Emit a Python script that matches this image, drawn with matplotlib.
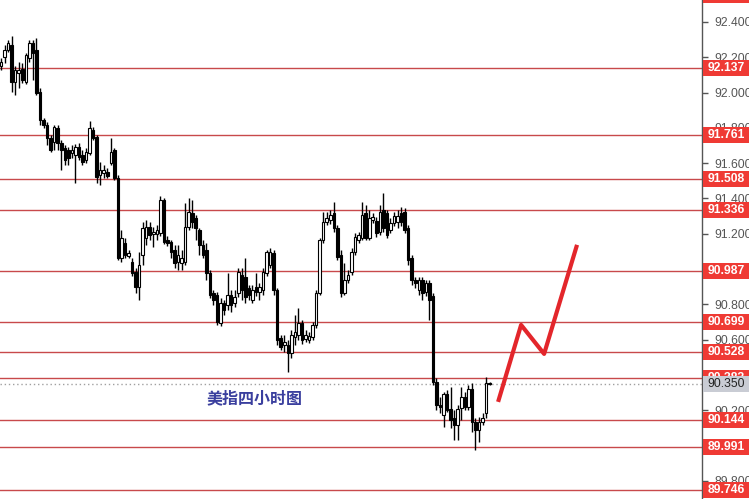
import numpy as np
import matplotlib.pyplot as plt
from matplotlib.patches import Rectangle
import matplotlib.transforms as mtransforms

plt.rcParams['font.family'] = ['Liberation Sans', 'DejaVu Sans']

# 4-hour candles
opens = [92.151, 92.202, 92.241, 92.270, 92.060, 92.111, 92.134, 92.060, 92.196, 92.281,
         92.241, 92.003, 91.845, 91.816, 91.743, 91.720, 91.799, 91.714, 91.686, 91.675,
         91.658, 91.646, 91.692, 91.646, 91.618, 91.658, 91.788, 91.748, 91.533, 91.544,
         91.550, 91.601, 91.675, 91.516, 91.063, 91.148, 91.074, 91.040, 90.983, 90.898,
         91.080, 91.176, 91.238, 91.199, 91.199, 91.204, 91.392, 91.165, 91.153, 91.108,
         91.040, 91.034, 91.040, 91.238, 91.318, 91.289, 91.222, 91.136, 91.108, 90.978,
         90.864, 90.853, 90.694, 90.808, 90.797, 90.853, 90.808, 90.864, 90.966, 90.955,
         90.893, 90.825, 90.898, 90.870, 90.882, 90.978, 91.023, 91.091, 90.882, 90.610,
         90.570, 90.570, 90.524, 90.615, 90.626, 90.694, 90.604, 90.598, 90.615, 90.683,
         90.864, 91.165, 91.267, 91.278, 91.318, 91.233, 91.080, 90.864, 90.938, 90.983,
         91.097, 91.165, 91.176, 91.318, 91.176, 91.278, 91.272, 91.210, 91.335, 91.318,
         91.222, 91.261, 91.267, 91.318, 91.323, 91.233, 91.063, 90.938, 90.882, 90.938,
         90.870, 90.921, 90.847, 90.360, 90.230, 90.173, 90.292, 90.207, 90.156, 90.117,
         90.213, 90.275, 90.219, 90.320, 90.134, 90.088, 90.134, 90.185, 90.352]
highs = [92.196, 92.270, 92.298, 92.321, 92.151, 92.173, 92.168, 92.224, 92.298, 92.298,
         92.309, 92.026, 91.856, 91.833, 91.760, 91.816, 91.816, 91.731, 91.703, 91.692,
         91.703, 91.709, 91.714, 91.675, 91.686, 91.839, 91.805, 91.760, 91.607, 91.590,
         91.573, 91.743, 91.686, 91.533, 91.222, 91.176, 91.108, 91.063, 91.006, 91.097,
         91.267, 91.278, 91.267, 91.238, 91.250, 91.414, 91.403, 91.187, 91.165, 91.136,
         91.136, 91.108, 91.374, 91.403, 91.392, 91.306, 91.233, 91.165, 91.148, 90.995,
         90.882, 90.870, 90.836, 90.825, 90.978, 90.882, 90.882, 91.006, 91.006, 91.063,
         90.910, 90.910, 90.978, 90.921, 91.006, 91.108, 91.119, 91.108, 90.893, 90.626,
         90.626, 90.598, 90.655, 90.740, 90.779, 90.712, 90.655, 90.643, 90.700, 90.882,
         91.176, 91.323, 91.323, 91.335, 91.380, 91.250, 91.108, 91.034, 90.995, 91.119,
         91.204, 91.210, 91.380, 91.363, 91.335, 91.318, 91.295, 91.363, 91.431, 91.335,
         91.289, 91.323, 91.335, 91.352, 91.346, 91.250, 91.080, 90.955, 90.955, 90.955,
         90.938, 90.938, 90.864, 90.383, 90.275, 90.304, 90.315, 90.332, 90.202, 90.230,
         90.332, 90.304, 90.344, 90.355, 90.156, 90.162, 90.185, 90.389, 90.358]
lows = [92.128, 92.168, 92.230, 92.003, 91.986, 92.026, 92.054, 92.049, 92.173, 92.071,
        91.986, 91.816, 91.799, 91.703, 91.663, 91.675, 91.675, 91.561, 91.590, 91.590,
        91.629, 91.488, 91.618, 91.590, 91.601, 91.646, 91.731, 91.488, 91.476, 91.516,
        91.516, 91.590, 91.505, 91.052, 91.040, 91.063, 91.063, 90.961, 90.864, 90.825,
        91.023, 91.136, 91.165, 91.125, 91.165, 91.187, 91.142, 91.131, 91.063, 91.006,
        90.995, 90.995, 91.023, 91.222, 91.233, 91.165, 91.080, 91.063, 90.938, 90.836,
        90.797, 90.683, 90.677, 90.740, 90.768, 90.757, 90.785, 90.842, 90.825, 90.808,
        90.825, 90.808, 90.847, 90.825, 90.853, 90.961, 91.006, 90.853, 90.570, 90.542,
        90.530, 90.416, 90.496, 90.570, 90.598, 90.575, 90.587, 90.581, 90.598, 90.666,
        90.853, 91.148, 91.250, 91.255, 91.210, 91.052, 90.842, 90.853, 90.921, 90.966,
        91.080, 91.148, 91.165, 91.165, 91.165, 91.261, 91.182, 91.193, 91.210, 91.176,
        91.204, 91.244, 91.233, 91.244, 91.204, 91.023, 90.910, 90.893, 90.853, 90.825,
        90.847, 90.712, 90.344, 90.202, 90.185, 90.105, 90.190, 90.099, 90.032, 90.032,
        90.145, 90.202, 90.202, 90.077, 89.975, 90.020, 90.117, 90.156, 90.345]
closes = [92.173, 92.241, 92.281, 92.060, 92.128, 92.128, 92.071, 92.213, 92.281, 92.224,
          91.998, 91.845, 91.816, 91.743, 91.675, 91.805, 91.714, 91.675, 91.618, 91.629,
          91.675, 91.692, 91.635, 91.607, 91.663, 91.799, 91.743, 91.522, 91.561, 91.561,
          91.527, 91.663, 91.516, 91.063, 91.176, 91.080, 91.091, 90.978, 90.898, 91.023,
          91.233, 91.238, 91.193, 91.210, 91.222, 91.392, 91.153, 91.148, 91.097, 91.034,
          91.080, 91.063, 91.238, 91.323, 91.267, 91.233, 91.136, 91.080, 90.978, 90.853,
          90.825, 90.700, 90.808, 90.768, 90.853, 90.797, 90.842, 90.983, 90.882, 90.842,
          90.853, 90.882, 90.870, 90.898, 90.983, 91.097, 91.097, 90.882, 90.598, 90.558,
          90.587, 90.524, 90.626, 90.643, 90.694, 90.598, 90.626, 90.621, 90.683, 90.864,
          91.165, 91.267, 91.289, 91.306, 91.233, 91.068, 90.864, 90.938, 90.966, 91.097,
          91.182, 91.193, 91.306, 91.176, 91.289, 91.295, 91.204, 91.323, 91.233, 91.193,
          91.261, 91.301, 91.301, 91.267, 91.222, 91.052, 90.938, 90.921, 90.938, 90.864,
          90.921, 90.825, 90.360, 90.230, 90.219, 90.292, 90.202, 90.145, 90.117, 90.207,
          90.275, 90.219, 90.320, 90.134, 90.088, 90.134, 90.156, 90.355, 90.350]

# support / resistance levels drawn on the chart
levels = [92.553, 92.137, 91.761, 91.508, 91.336, 90.987, 90.699, 90.528,
          90.383, 90.144, 89.991, 89.746]
level_labels = ['92.553', '92.137', '91.761', '91.508', '91.336', '90.987', '90.699',
                '90.528', '90.383', '90.144', '89.991', '89.746']
last_price = 90.350

# forecast path (bars ahead, price)
path_bars = [140.4, 146.9, 153.4, 162.7]
path_price = [90.247, 90.683, 90.519, 91.137]

yticks = [89.8, 90.0, 90.2, 90.4, 90.6, 90.8, 91.0, 91.2, 91.4, 91.6, 91.8, 92.0, 92.2, 92.4]

fig = plt.figure(figsize=(7.49, 4.99), dpi=100)
ax = fig.add_axes([0, 0, 702 / 749, 1])
ax.set_xlim(-0.3, 198)
ax.set_ylim(89.6966, 92.5246)

# candles
w = 0.72
for i in range(len(opens)):
    o, h, l, c = opens[i], highs[i], lows[i], closes[i]
    ax.plot([i, i], [l, h], color='black', lw=1, zorder=3, solid_capstyle='butt')
    bottom = min(o, c)
    height = max(abs(c - o), 0.004)
    face = 'white' if c >= o else 'black'
    ax.add_patch(Rectangle((i - w / 2, bottom), w, height, facecolor=face,
                           edgecolor='black', lw=0.8, zorder=4))

# horizontal levels
for lv in levels:
    ax.axhline(lv, color='#c8494b', lw=1, zorder=2)
ax.axhline(last_price, color='#a0a0a0', lw=1, ls=(0, (1, 2)), zorder=2)

# forecast zigzag
ax.plot(path_bars, path_price, color='#e3262b', lw=3, zorder=5, solid_capstyle='butt')

ax.text(58.0, 90.270, '美指四小时图', color='#3a3f9e', fontsize=11.5, fontweight='bold',
        family=['Noto Sans CJK SC', 'DejaVu Sans'], va='center', ha='left', zorder=6)

# right price axis
for s in ['top', 'left', 'bottom']:
    ax.spines[s].set_visible(False)
ax.spines['right'].set_color('#555555')
ax.spines['right'].set_linewidth(1)
ax.set_xticks([])
ax.yaxis.tick_right()
ax.set_yticks(yticks)
ax.set_yticklabels([f'{t:.3f}' for t in yticks])
ax.tick_params(axis='y', direction='out', length=4, width=1, color='#555555',
               labelsize=8.7, labelcolor='#555555', pad=5)

# price label boxes
trans = mtransforms.blended_transform_factory(ax.transAxes, ax.transData)
box_w = 749 / 702 - 1.0
box_h = 16 / 176.5
for lv, lab in zip(levels, level_labels):
    ax.add_patch(Rectangle((1.0015, lv - box_h / 2), box_w, box_h, transform=trans,
                           facecolor='#ef3a34', edgecolor='none', clip_on=False, zorder=10))
    ax.text(1.0015 + box_w / 2, lv, lab, transform=trans, ha='center', va='center',
            color='white', fontsize=8.7, fontweight='bold', clip_on=False, zorder=11)
ax.add_patch(Rectangle((1.0015, last_price - box_h / 2), box_w, box_h, transform=trans,
                       facecolor='#c9ccd4', edgecolor='none', clip_on=False, zorder=12))
ax.text(1.0015 + box_w / 2, last_price, f'{last_price:.3f}', transform=trans, ha='center',
        va='center', color='#222222', fontsize=8.7, clip_on=False, zorder=13)

fig.savefig('out.png', dpi=100)
